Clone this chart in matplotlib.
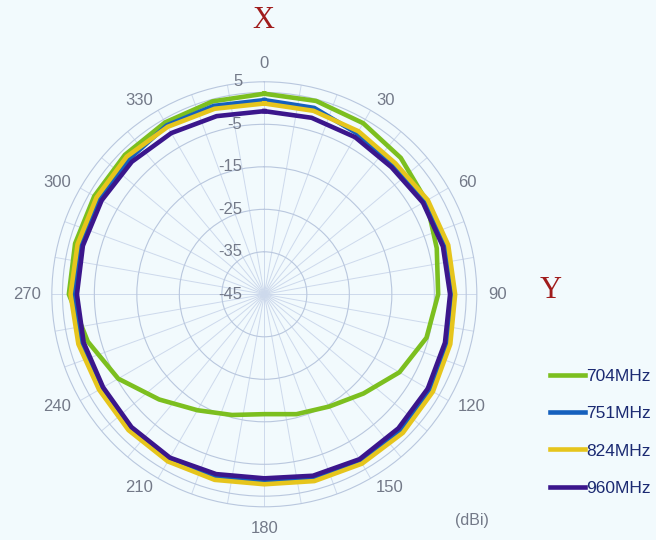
import numpy as np
import matplotlib
matplotlib.use("Agg")
import matplotlib.pyplot as plt
from matplotlib.transforms import offset_copy

# ---- data (dBi) sampled every 15 degrees, 0 = X axis (top), clockwise ----
angles_deg = [0, 15, 30, 45, 60, 75, 90, 105, 120, 135, 150, 165,
              180, 195, 210, 225, 240, 255, 270, 285, 300, 315, 330, 345]

g704 = [2.2, 2.1, 1.5, 0.4, -1.0, -3.0, -4.1, -5.5, -8.3, -12.0, -14.5, -15.8,
        -16.8, -15.6, -13.5, -10.0, -5.3, -2.0, 1.0, 1.1, 1.2, 1.4, 1.7, 2.0]
g751 = [0.7, 0.4, -1.3, -2.0, -1.2, -0.8, -0.7, -0.3, 0.1, 0.3, 0.4, -0.1,
        -1.0, -0.5, -0.1, -0.3, -0.6, -0.3, -0.1, -0.1, -0.1, 0.0, 0.9, 0.9]
g824 = [-0.1, -0.3, -0.7, -1.4, -0.6, -0.2, -0.1, 0.3, 0.8, 1.1, 1.0, 0.5,
        -0.3, 0.2, 0.4, 0.2, -0.1, 0.3, 0.6, 0.5, 0.6, 0.8, 0.5, 0.2]
g960 = [-1.9, -2.0, -2.3, -2.7, -1.9, -1.5, -1.3, -1.0, -0.6, -0.4, -0.2, -0.8,
        -1.7, -1.2, -0.6, -0.8, -1.2, -1.0, -0.9, -0.8, -0.8, -0.9, -1.2, -1.6]

series_names = ["704MHz", "751MHz", "824MHz", "960MHz"]
series_vals = [g704, g751, g824, g960]
series_colors = ["#7cbf1f", "#1560bd", "#e6c51c", "#3b168c"]
draw_order = [1, 0, 2, 3]

ring_values = [-45, -35, -25, -15, -5, 5]
theta_labels = [0, 30, 60, 90, 120, 150, 180, 210, 240, 270, 300, 330]

BG = "#f2fafd"
GRID = "#b9c7de"
LABEL_C = "#737988"

fig = plt.figure(figsize=(6.56, 5.40), dpi=100, facecolor=BG)
ax = fig.add_axes([0.0790, 0.0615, 0.6479, 0.787], projection="polar")
ax.set_facecolor(BG)
ax.set_theta_zero_location("N")
ax.set_theta_direction(-1)
ax.set_ylim(-45, 5)

# grid
ax.set_thetagrids(np.arange(0, 360, 10), labels=[""] * 36)
ax.set_rgrids([-35, -25, -15, -5, 2.5], labels=[""] * 5)
ax.xaxis.grid(True, color="#cdd9ec", lw=0.7)
ax.yaxis.grid(True, color=GRID, lw=0.8)
ax.spines["polar"].set_color(GRID)
ax.spines["polar"].set_linewidth(0.8)
ax.tick_params(axis="both", length=0)

# curves
for i in draw_order:
    th = np.deg2rad(angles_deg + [angles_deg[0]])
    rv = series_vals[i] + [series_vals[i][0]]
    ax.plot(th, rv, color=series_colors[i], lw=3.3, solid_joinstyle="round",
            zorder=3 + i, clip_on=False)

# radial labels left of the 0° spoke
trans = offset_copy(ax.transData, fig=fig, x=-22, y=0, units="dots")
for v in ring_values:
    ax.text(0, v, str(v), transform=trans, ha="right", va="center",
            fontsize=12, color=LABEL_C, family="Liberation Sans", zorder=10)

# angle labels: box edge anchored just outside the outer ring
for a in theta_labels:
    if a in (0, 180):
        ha = "center"
        va = "bottom" if a == 0 else "top"
        r_lab = 7.6 if a == 0 else 8.4
    else:
        ha = "left" if a < 180 else "right"
        va = "center"
        r_lab = 7.6
    ax.text(np.deg2rad(a), r_lab, str(a), ha=ha, va=va, fontsize=12,
            color=LABEL_C, family="Liberation Sans", clip_on=False)

# axis names
fig.text(263 / 656, 1 - 20 / 540, "X", ha="center", va="center", fontsize=22,
         color="#a01c1c", family="Liberation Serif")
fig.text(551 / 656, 1 - 291 / 540, "Y", ha="center", va="center", fontsize=22,
         color="#a01c1c", family="Liberation Serif")
fig.text(472 / 656, 1 - 520 / 540, "(dBi)", ha="center", va="center",
         fontsize=11.5, color=LABEL_C, family="Liberation Sans")

# legend
handles = [plt.Line2D([], [], color=c, lw=3.3) for c in series_colors]
leg = fig.legend(handles, series_names, loc="upper left",
                 bbox_to_anchor=(550 / 656, 1 - 369 / 540), frameon=False,
                 borderpad=0, borderaxespad=0,
                 handlelength=2.0, handletextpad=0.1, labelspacing=1.27,
                 prop={"family": "Liberation Sans", "size": 12.5})
for t in leg.get_texts():
    t.set_color("#1b2a72")

fig.savefig("out.png", dpi=100, facecolor=BG)
